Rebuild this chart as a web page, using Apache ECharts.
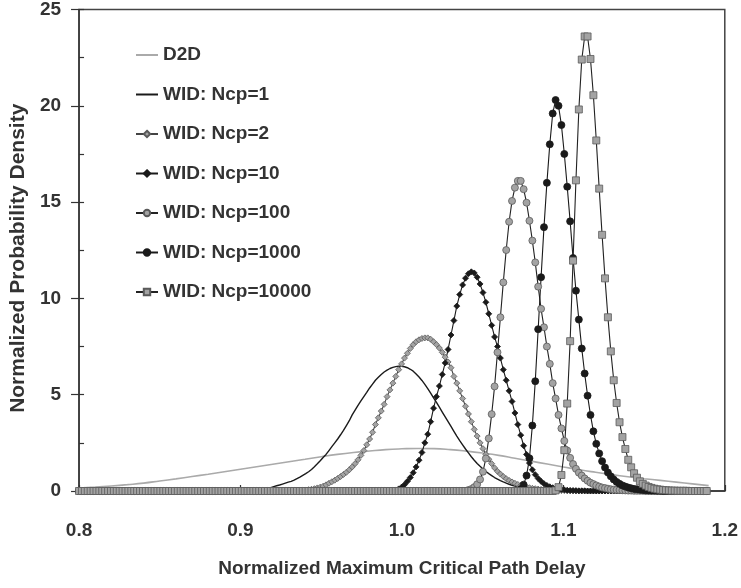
<!DOCTYPE html>
<html><head><meta charset="utf-8">
<script src="https://cdn.jsdelivr.net/npm/echarts@6/dist/echarts.min.js"></script>
<style>html,body{margin:0;padding:0;background:#fff}#c{width:741px;height:588px}</style>
</head><body><div id="c"></div>
<script>
// shared sampling grid for the WID curves (normalized delay)
var xs = [
0.8,0.8018,0.8036,0.8054,0.8072,0.809,0.8108,0.8126,0.8144,0.8162,
0.818,0.8198,0.8216,0.8234,0.8252,0.827,0.8288,0.8306,0.8324,0.8342,
0.836,0.8378,0.8396,0.8414,0.8432,0.845,0.8468,0.8486,0.8504,0.8522,
0.854,0.8558,0.8576,0.8594,0.8612,0.863,0.8648,0.8666,0.8684,0.8702,
0.872,0.8738,0.8756,0.8774,0.8792,0.881,0.8828,0.8846,0.8864,0.8882,
0.89,0.8918,0.8936,0.8954,0.8972,0.899,0.9008,0.9026,0.9044,0.9062,
0.908,0.9098,0.9116,0.9134,0.9152,0.917,0.9188,0.9206,0.9224,0.9242,
0.926,0.9278,0.9296,0.9314,0.9332,0.935,0.9368,0.9386,0.9404,0.9422,
0.944,0.9458,0.9476,0.9494,0.9512,0.953,0.9548,0.9566,0.9584,0.9602,
0.962,0.9638,0.9656,0.9674,0.9692,0.971,0.9728,0.9746,0.9764,0.9782,
0.98,0.9818,0.9836,0.9854,0.9872,0.989,0.9908,0.9926,0.9944,0.9962,
0.998,0.9998,1.0016,1.0034,1.0052,1.007,1.0088,1.0106,1.0124,1.0142,
1.016,1.0178,1.0196,1.0214,1.0232,1.025,1.0268,1.0286,1.0304,1.0322,
1.034,1.0358,1.0376,1.0394,1.0412,1.043,1.0448,1.0466,1.0484,1.0502,
1.052,1.0538,1.0556,1.0574,1.0592,1.061,1.0628,1.0646,1.0664,1.0682,
1.07,1.0718,1.0736,1.0754,1.0772,1.079,1.0808,1.0826,1.0844,1.0862,
1.088,1.0898,1.0916,1.0934,1.0952,1.097,1.0988,1.1006,1.1024,1.1042,
1.106,1.1078,1.1096,1.1114,1.1132,1.115,1.1168,1.1186,1.1204,1.1222,
1.124,1.1258,1.1276,1.1294,1.1312,1.133,1.1348,1.1366,1.1384,1.1402,
1.142,1.1438,1.1456,1.1474,1.1492,1.151,1.1528,1.1546,1.1564,1.1582,
1.16,1.1618,1.1636,1.1654,1.1672,1.169,1.1708,1.1726,1.1744,1.1762,
1.178,1.1798,1.1816,1.1834,1.1852,1.187,1.1888];

// D2D curve (own coarse grid)
var d2dX = [0.80,0.81,0.82,0.83,0.84,0.85,0.86,0.87,0.88,0.89,
0.90,0.91,0.92,0.93,0.94,0.95,0.96,0.97,0.98,0.99,
1.00,1.01,1.02,1.03,1.04,1.05,1.06,1.07,1.08,1.09,
1.10,1.11,1.12,1.13,1.14,1.15,1.16,1.17,1.18,1.19];
var d2dY = [0.15,0.2,0.26,0.33,0.41,0.52,0.63,0.75,0.87,1.0,
1.13,1.26,1.39,1.52,1.65,1.78,1.9,2.0,2.08,2.15,
2.19,2.21,2.2,2.15,2.07,1.97,1.85,1.7,1.55,1.4,
1.25,1.1,0.97,0.85,0.74,0.64,0.55,0.46,0.37,0.28];

var wid1 = [
0,0,0,0,0,0,0,0,0,0, 0,0,0,0,0,0,0,0,0,0, 0,0,0,0,0,0,0,0,0,0,
0,0,0,0,0,0,0,0,0,0, 0,0,0,0,0,0,0,0,0,0, 0,0,0,0,0,0,0,0,0,0,
0.03,0.04,0.05,0.07,0.1,0.13,0.17,0.23,0.27,0.31,
0.36,0.41,0.46,0.5,0.56,0.64,0.72,0.81,0.9,1.0,
1.12,1.26,1.41,1.57,1.74,1.9,2.1,2.3,2.5,2.7,
2.92,3.15,3.4,3.65,3.95,4.2,4.45,4.68,4.9,5.12,
5.35,5.55,5.75,5.9,6.05,6.18,6.28,6.36,6.42,6.46,
6.48,6.48,6.45,6.4,6.32,6.22,6.08,5.92,5.74,5.54,
5.32,5.08,4.84,4.6,4.35,4.1,3.85,3.6,3.35,3.1,
2.85,2.62,2.4,2.18,1.98,1.78,1.6,1.43,1.28,1.14,
1.01,0.9,0.8,0.7,0.62,0.54,0.47,0.41,0.35,0.3,
0.26,0.22,0.19,0.16,0.13,0.11,0.09,0.07,0.06,0.05,
0.04,0.03,0.02,0.02,0.01,0.01,0,0,0,0,
0,0,0,0,0,0,0,0,0,0, 0,0,0,0,0,0,0,0,0,0, 0,0,0,0,0,0,0,0,0,0,
0,0,0,0,0,0,0,0,0,0, 0,0,0,0,0,0,0];

var wid2 = [
0,0,0,0,0,0,0,0,0,0, 0,0,0,0,0,0,0,0,0,0, 0,0,0,0,0,0,0,0,0,0,
0,0,0,0,0,0,0,0,0,0, 0,0,0,0,0,0,0,0,0,0, 0,0,0,0,0,0,0,0,0,0,
0,0,0,0,0,0,0,0,0,0,
0,0,0,0,0,0.01,0.02,0.03,0.05,0.07,
0.09,0.12,0.16,0.2,0.25,0.32,0.4,0.48,0.56,0.65,
0.75,0.86,0.97,1.1,1.25,1.42,1.62,1.85,2.1,2.4,
2.7,3.05,3.45,3.8,4.15,4.5,4.9,5.25,5.6,5.95,
6.3,6.6,6.9,7.15,7.4,7.6,7.75,7.85,7.92,7.95,
7.95,7.88,7.75,7.6,7.42,7.2,6.95,6.7,6.4,5.95,
5.6,5.2,4.8,4.4,4.0,3.6,3.2,2.85,2.5,2.2,
1.9,1.65,1.42,1.2,1.02,0.88,0.75,0.64,0.55,0.47,
0.4,0.34,0.29,0.24,0.2,0.17,0.14,0.12,0.1,0.08,
0.07,0.06,0.05,0.04,0.03,0.03,0.02,0.02,0.01,0.01,
0.01,0,0,0,0,0,0,0,0,0,
0,0,0,0,0,0,0,0,0,0, 0,0,0,0,0,0,0,0,0,0, 0,0,0,0,0,0,0,0,0,0,
0,0,0,0,0,0,0];

var wid10 = [
0,0,0,0,0,0,0,0,0,0, 0,0,0,0,0,0,0,0,0,0, 0,0,0,0,0,0,0,0,0,0,
0,0,0,0,0,0,0,0,0,0, 0,0,0,0,0,0,0,0,0,0, 0,0,0,0,0,0,0,0,0,0,
0,0,0,0,0,0,0,0,0,0, 0,0,0,0,0,0,0,0,0,0, 0,0,0,0,0,0,0,0,0,0,
0,0,0,0,0,0,0,0,0,0,
0,0,0,0,0,0,0,0,0.02,0.05,
0.11,0.2,0.33,0.5,0.7,0.95,1.25,1.6,2.0,2.5,
2.95,3.6,4.3,4.9,5.45,6.05,6.65,7.35,8.1,8.85,
9.6,10.2,10.7,11.05,11.28,11.38,11.32,11.1,10.75,10.3,
9.8,9.2,8.6,8.0,7.5,6.9,6.3,5.75,5.2,4.65,
4.05,3.45,2.9,2.35,1.9,1.45,1.1,0.85,0.65,0.5,
0.38,0.29,0.22,0.17,0.13,0.1,0.08,0.06,0.04,0.03,
0.02,0.02,0.01,0.01,0.01,0,0,0,0,0,
0,0,0,0,0,0,0,0,0,0, 0,0,0,0,0,0,0,0,0,0, 0,0,0,0,0,0,0,0,0,0,
0,0,0,0,0,0,0];

var wid100 = [
0,0,0,0,0,0,0,0,0,0, 0,0,0,0,0,0,0,0,0,0, 0,0,0,0,0,0,0,0,0,0,
0,0,0,0,0,0,0,0,0,0, 0,0,0,0,0,0,0,0,0,0, 0,0,0,0,0,0,0,0,0,0,
0,0,0,0,0,0,0,0,0,0, 0,0,0,0,0,0,0,0,0,0, 0,0,0,0,0,0,0,0,0,0,
0,0,0,0,0,0,0,0,0,0, 0,0,0,0,0,0,0,0,0,0, 0,0,0,0,0,0,0,0,0,0,
0,0,0,0,0,0,0,0,0,0,
0,0,0,0,0.05,0.1,0.2,0.35,0.6,1.0,
1.69,2.73,3.99,5.43,7.2,9.02,10.83,12.51,13.98,15.06,
15.75,16.1,16.1,15.67,14.97,14.03,13.0,11.87,10.61,9.46,
8.5,7.5,6.6,5.6,4.8,3.95,3.25,2.6,2.1,1.72,
1.4,1.15,0.95,0.8,0.65,0.53,0.43,0.36,0.29,0.23,
0.18,0.15,0.12,0.09,0.07,0.06,0.05,0.04,0.03,0.02,
0.02,0.01,0.01,0.01,0.01,0,0,0,0,0,
0,0,0,0,0,0,0,0,0,0, 0,0,0,0,0,0,0];

var wid1000 = [
0,0,0,0,0,0,0,0,0,0, 0,0,0,0,0,0,0,0,0,0, 0,0,0,0,0,0,0,0,0,0,
0,0,0,0,0,0,0,0,0,0, 0,0,0,0,0,0,0,0,0,0, 0,0,0,0,0,0,0,0,0,0,
0,0,0,0,0,0,0,0,0,0, 0,0,0,0,0,0,0,0,0,0, 0,0,0,0,0,0,0,0,0,0,
0,0,0,0,0,0,0,0,0,0, 0,0,0,0,0,0,0,0,0,0, 0,0,0,0,0,0,0,0,0,0,
0,0,0,0,0,0,0,0,0,0, 0,0,0,0,0,0,0,0,0,0, 0,0,0,0,0,0,0,0,0,0,
0,0,0.1,0.33,0.8,1.7,3.4,5.7,8.4,11.1,
13.7,16.0,18.0,19.6,20.3,20.0,19.0,17.5,15.8,14.0,
12.1,10.4,8.9,7.4,6.1,4.95,3.95,3.1,2.45,1.95,
1.55,1.22,0.96,0.76,0.6,0.47,0.37,0.29,0.23,0.18,
0.14,0.11,0.09,0.07,0.05,0.04,0.03,0.02,0.02,0.01,
0.01,0,0,0,0,0,0,0,0,0,
0,0,0,0,0,0,0];

var wid10000 = [
0,0,0,0,0,0,0,0,0,0, 0,0,0,0,0,0,0,0,0,0, 0,0,0,0,0,0,0,0,0,0,
0,0,0,0,0,0,0,0,0,0, 0,0,0,0,0,0,0,0,0,0, 0,0,0,0,0,0,0,0,0,0,
0,0,0,0,0,0,0,0,0,0, 0,0,0,0,0,0,0,0,0,0, 0,0,0,0,0,0,0,0,0,0,
0,0,0,0,0,0,0,0,0,0, 0,0,0,0,0,0,0,0,0,0, 0,0,0,0,0,0,0,0,0,0,
0,0,0,0,0,0,0,0,0,0, 0,0,0,0,0,0,0,0,0,0, 0,0,0,0,0,0,0,0,0,0,
0,0,0,0,0,0,0,0,0,0,
0,0,0,0,0.03,0.2,0.83,2.12,4.54,7.78,
11.96,16.13,19.81,22.4,23.6,23.6,22.43,20.55,18.2,15.7,
13.3,11.04,9.02,7.25,5.75,4.57,3.57,2.8,2.18,1.62,
1.23,0.92,0.69,0.5,0.37,0.28,0.21,0.16,0.12,0.09,
0.07,0.05,0.04,0.03,0.02,0.02,0.01,0.01,0.01,0.01,
0,0,0,0,0,0,0];

var names = ['D2D','WID: Ncp=1','WID: Ncp=2','WID: Ncp=10','WID: Ncp=100','WID: Ncp=1000','WID: Ncp=10000'];
var xTicks = [0.8, 0.9, 1.0, 1.1, 1.2];

[wid1,wid2,wid10,wid100,wid1000,wid10000].forEach(function(a,i){
  if (a.length !== xs.length) throw new Error('length mismatch series '+i+': '+a.length+' vs '+xs.length);
});

function pairs(x, y){ return x.map(function(v,i){ return [v, y[i]]; }); }

var FONT = "'Liberation Sans', Arial, sans-serif";
var TXT = '#333';
var chart = echarts.init(document.getElementById('c'), null, {renderer:'canvas'});

function markerSeries(name, data, symbol, size, fill, border, lineColor){
  return {
    name: name, type:'line', data: data, symbol: symbol, symbolSize: size,
    showSymbol: true, clip: false,
    lineStyle: {color: lineColor, width: 1.1},
    itemStyle: {color: fill, borderColor: border, borderWidth: 0.8},
    emphasis: {disabled: true}, z: 3
  };
}

var hiddenSym = {color: 'rgba(0,0,0,0)', borderColor: 'rgba(0,0,0,0)', opacity: 0};

chart.setOption({
  animation: false,
  backgroundColor: '#fff',
  grid: {left: 79, right: 13, top: 8, bottom: 97, show: true, borderColor: '#444', borderWidth: 1.5, backgroundColor: 'transparent'},
  legend: {
    orient: 'vertical', left: 130, top: 40,
    itemWidth: 22, itemHeight: 8, itemGap: 19.5,
    textStyle: {fontFamily: FONT, fontWeight: 'bold', fontSize: 19, color: TXT, lineHeight: 20},
    data: [
      {name: names[0], itemStyle: hiddenSym},
      {name: names[1], itemStyle: hiddenSym},
      names[2], names[3], names[4], names[5], names[6]
    ]
  },
  xAxis: {
    type: 'value', min: 0.8, max: 1.2, interval: 0.1,
    name: 'Normalized Maximum Critical Path Delay', nameLocation: 'middle', nameGap: 68,
    nameTextStyle: {fontFamily: FONT, fontWeight: 'bold', fontSize: 19, color: TXT},
    axisLine: {lineStyle: {color: '#333', width: 1.5}},
    axisTick: {inside: true, length: 6, lineStyle: {color: '#333', width: 1.2}},
    minorTick: {show: true, splitNumber: 2, length: 4, lineStyle: {color: '#333', width: 1.2}},
    splitLine: {show: false},
    axisLabel: {margin: 30, fontFamily: FONT, fontWeight: 'bold', fontSize: 19, color: TXT,
      formatter: function(v){ return v.toFixed(1); }}
  },
  yAxis: [{
    type: 'value', min: 0, max: 25, interval: 5,
    name: 'Normalized Probability Density', nameLocation: 'middle', nameGap: 47,
    nameTextStyle: {fontFamily: FONT, fontWeight: 'bold', fontSize: 21, color: TXT, padding: [0, 16, 0, 0]},
    axisLine: {show: true, lineStyle: {color: '#333', width: 1.5}},
    axisTick: {show: true, inside: false, length: 8, lineStyle: {color: '#333', width: 1.2}},
    splitLine: {show: false},
    axisLabel: {margin: 18, fontFamily: FONT, fontWeight: 'bold', fontSize: 19, color: TXT}
  }, {
    type: 'value', min: 0, max: 25, interval: 2.5, position: 'left',
    axisLine: {show: false}, axisLabel: {show: false}, splitLine: {show: false},
    axisTick: {show: true, inside: true, length: 5, lineStyle: {color: '#333', width: 1.2}}
  }],
  series: [
    {name: names[0], type:'line', data: pairs(d2dX, d2dY), symbol:'none', smooth: true,
     lineStyle:{color:'#aaaaaa', width:1.6}, itemStyle:{color:'#aaaaaa'}, z: 2},
    {name: names[1], type:'line', data: pairs(xs, wid1), symbol:'none',
     lineStyle:{color:'#1a1a1a', width:1.4}, itemStyle:{color:'#1a1a1a'}, z: 2},
    markerSeries(names[2], pairs(xs, wid2), 'diamond', 6, '#a3a3a3', '#5a5a5a', '#444'),
    markerSeries(names[3], pairs(xs, wid10), 'diamond', 6, '#1a1a1a', '#1a1a1a', '#1a1a1a'),
    markerSeries(names[4], pairs(xs, wid100), 'circle', 7, '#a3a3a3', '#5a5a5a', '#222'),
    markerSeries(names[5], pairs(xs, wid1000), 'circle', 7, '#1a1a1a', '#1a1a1a', '#1a1a1a'),
    markerSeries(names[6], pairs(xs, wid10000), 'rect', 7, '#a3a3a3', '#5a5a5a', '#222')
  ]
});
</script></body></html>
